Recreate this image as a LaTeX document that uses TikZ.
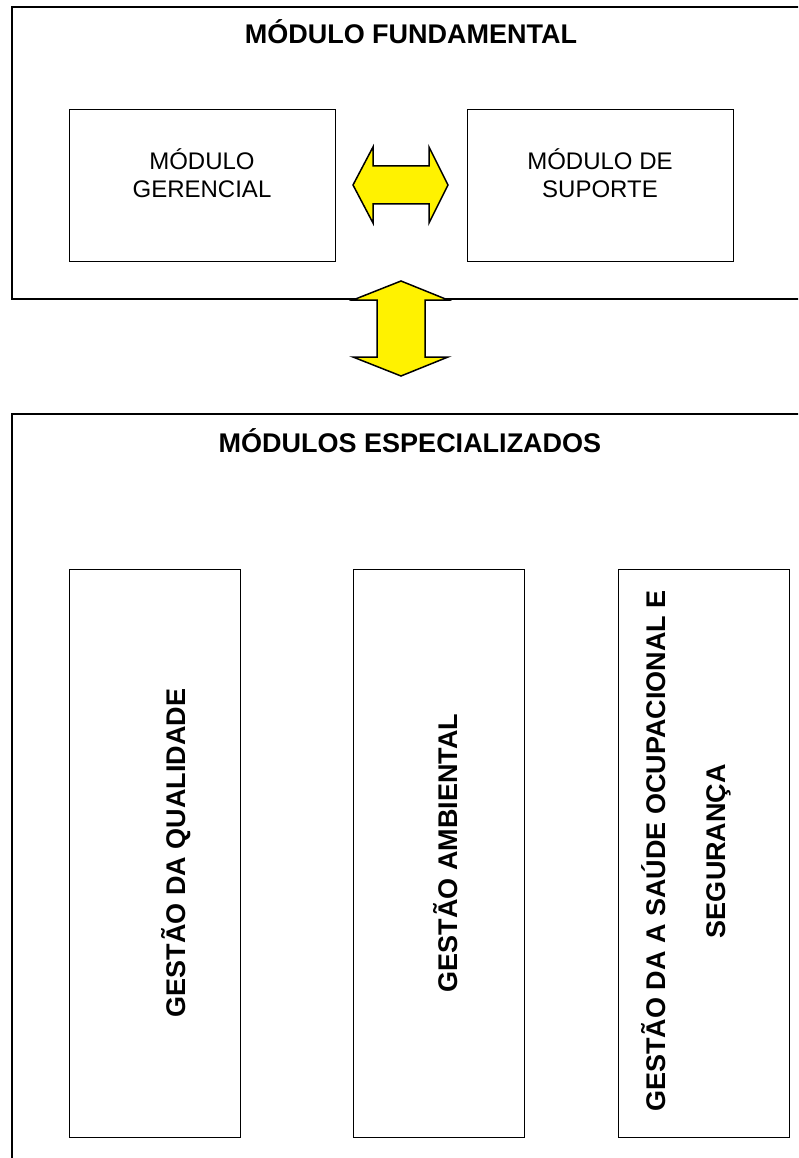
\documentclass[tikz,border=0pt]{standalone}
\usepackage{fontspec}
\setmainfont{Liberation Sans}
\begin{document}
\begin{tikzpicture}[x=1pt,y=-1pt,
  frame/.style={draw=black, line width=1.5pt},
  box/.style={draw=black, line width=1.3pt, inner sep=0pt, anchor=north west},
  blockarrow/.style={draw=black, line width=1.5pt, fill=yellow, line join=miter},
  title/.style={font=\fontsize{27}{30}\selectfont\bfseries, inner sep=0pt, anchor=base},
  lbl/.style={font=\fontsize{24}{28}\selectfont, inner sep=0pt, anchor=base},
  vlbl/.style={font=\fontsize{27}{60}\selectfont\bfseries, inner sep=0pt, anchor=base, rotate=90}]
\useasboundingbox (0,0) rectangle (798,1158);
\clip (0,0) rectangle (798,1158);
\fill[white] (0,0) rectangle (798,1158);
% top frame
\draw[frame] (12,7) rectangle (830,299);
\node[title] (t1) at (411,44) {MÓDULO FUNDAMENTAL};
\node[box, minimum width=266pt, minimum height=152pt] (ger) at (69,109) {};
\node[box, minimum width=266pt, minimum height=152pt] (sup) at (467,109) {};
\node[lbl] (tger) at (202,170) {\begin{tabular}[t]{@{}c@{}}MÓDULO\\GERENCIAL\end{tabular}};
\node[lbl] (tsup) at (600,170) {\begin{tabular}[t]{@{}c@{}}MÓDULO DE\\SUPORTE\end{tabular}};
% horizontal double arrow
\draw[blockarrow] (353,185) -- (373,147) -- (373,166) -- (429,166) -- (429,147) -- (448,185)
  -- (429,223) -- (429,204) -- (373,204) -- (373,223) -- cycle;
% bottom frame
\draw[frame] (12,414) rectangle (830,1180);
% vertical double arrow
\draw[blockarrow] (401,281) -- (448,300) -- (425,300) -- (425,357) -- (448,357) -- (401,376)
  -- (353,357) -- (377,357) -- (377,300) -- (353,300) -- cycle;
\node[title] (t2) at (410,452) {MÓDULOS ESPECIALIZADOS};
\node[box, minimum width=171pt, minimum height=568pt] (q) at (69,569) {};
\node[box, minimum width=171pt, minimum height=568pt] (a) at (353,569) {};
\node[box, minimum width=171pt, minimum height=568pt] (s) at (618,569) {};
\node[vlbl] (tq) at (185,853) {GESTÃO DA QUALIDADE};
\node[vlbl] (ta) at (457,853) {GESTÃO AMBIENTAL};
\node[vlbl] (ts) at (665,851) {\begin{tabular}[t]{@{}c@{}}GESTÃO DA A SAÚDE OCUPACIONAL E\\SEGURANÇA\end{tabular}};
\end{tikzpicture}
\end{document}
